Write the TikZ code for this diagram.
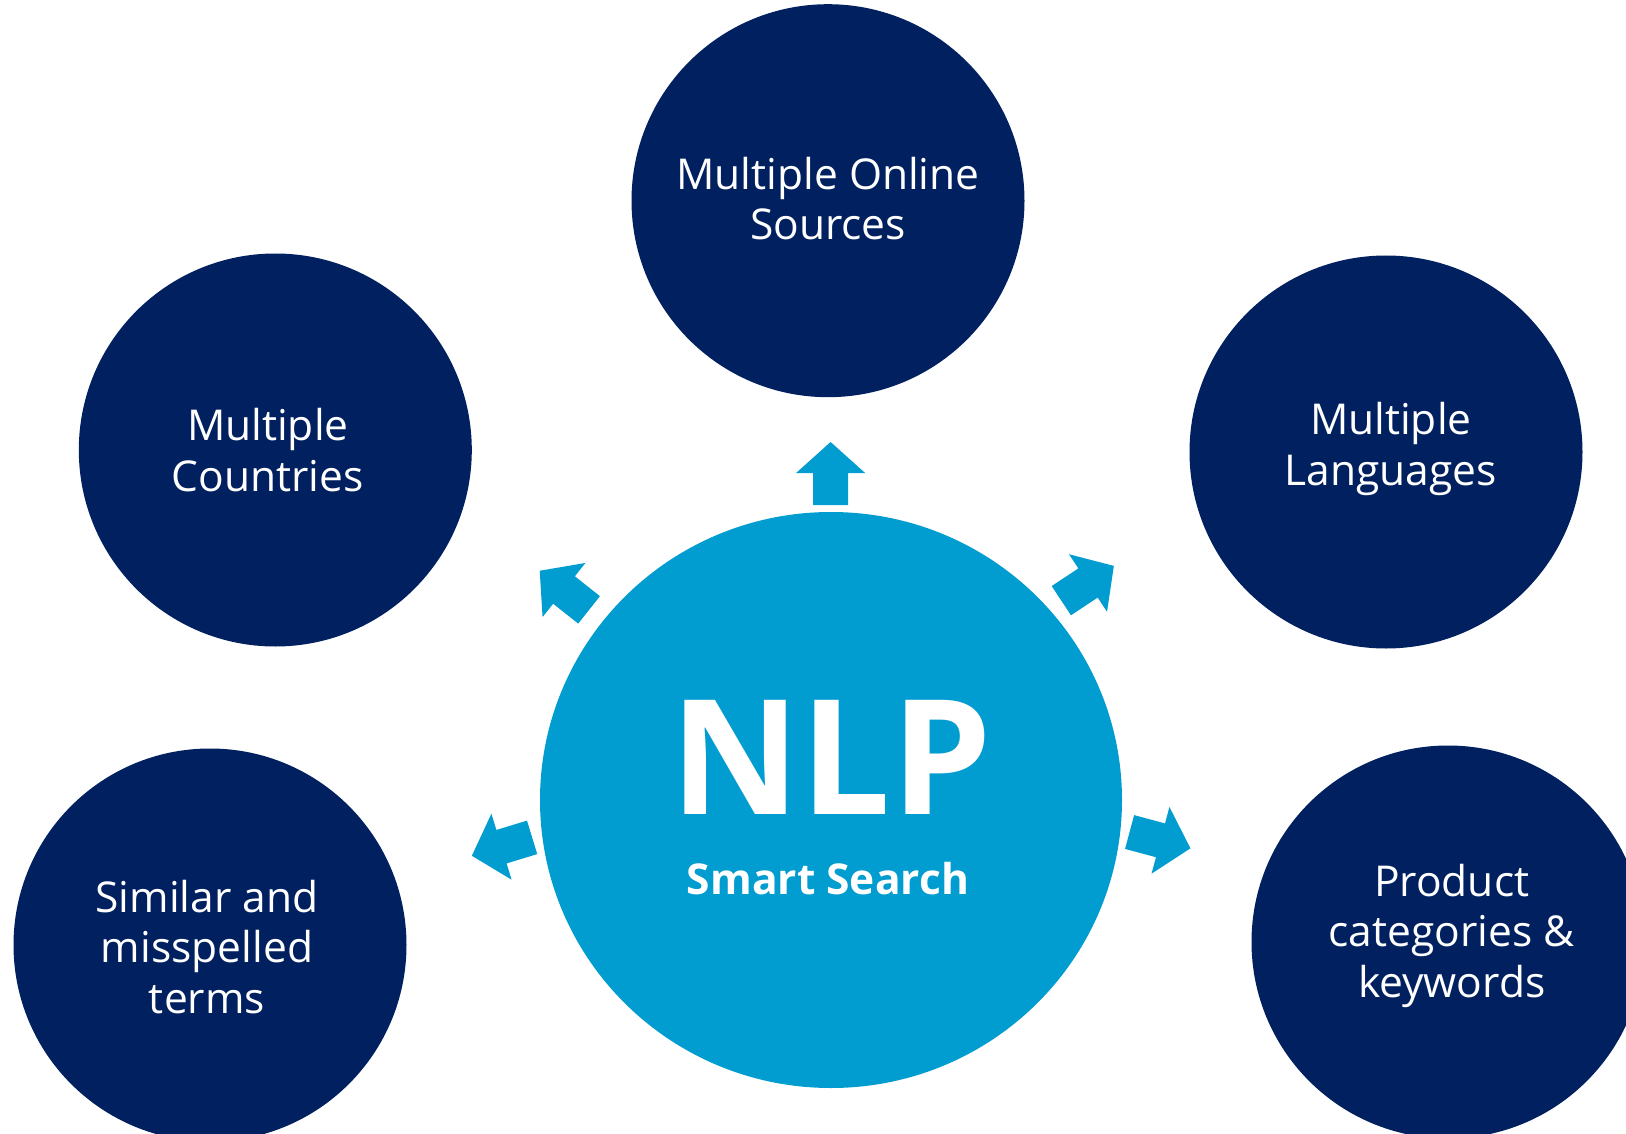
\documentclass[tikz,border=0pt]{standalone}
\usepackage{fontspec}
\setmainfont{Open Sans}
\definecolor{navy}{HTML}{012060}
\definecolor{sky}{HTML}{019CD0}
\usetikzlibrary{shapes.geometric}
\tikzset{
  bubble/.style={circle, fill=navy, minimum size=393pt, inner sep=0pt},
  hubstyle/.style={ellipse, fill=sky, minimum width=582pt, minimum height=576pt, inner sep=0pt},
  btext/.style={text=white, align=center, inner sep=0pt, font=\fontsize{42.5pt}{50.5pt}\selectfont},
  bigtext/.style={text=white, inner sep=0pt, anchor=base, font=\fontsize{160pt}{190pt}\selectfont\bfseries},
  subtext/.style={text=white, inner sep=0pt, anchor=base, font=\fontsize{42.5pt}{50pt}\selectfont\bfseries},
  blockarrow/.style={fill=sky},
}
% #1,#2: middle of the arrow head's base; #3: direction
\newcommand\hubarrow[3]{%
  \fill[blockarrow, shift={(#1,#2)}, rotate=#3]
    (-32pt,-17.5pt) -- (0pt,-17.5pt) -- (0pt,-34.5pt) -- (31pt,0pt)
    -- (0pt,34.5pt) -- (0pt,17.5pt) -- (-32pt,17.5pt) -- cycle;}
\begin{document}
\begin{tikzpicture}[x=1pt,y=-1pt]
\useasboundingbox (0,0) rectangle (1626,1134);
\clip (0,0) rectangle (1626,1134);
% hub
\node[hubstyle] (hub) at (831,800) {};
\node[bigtext] (nlp) at (831,814) {NLP};
\node[subtext] (smart) at (828,894) {Smart Search};
% bubbles
\node[bubble] (top) at (828,200.7) {};
\node[bubble] (lt) at (275.3,450) {};
\node[bubble] (rt) at (1386,452) {};
\node[bubble] (lb) at (210,945) {};
\node[bubble] (rb) at (1448,942) {};
\node[btext] (toptxt) at (828,204.4) {\strut Multiple Online\\\strut Sources};
\node[btext] (lttxt) at (267.8,455.7) {\strut Multiple\\\strut Countries};
\node[btext] (rttxt) at (1390.8,449.8) {\strut Multiple\\\strut Languages};
\node[btext] (lbtxt) at (207,952.8) {\strut Similar and\\\strut misspelled\\\strut terms};
\node[btext] (rbtxt) at (1451.7,936.5) {\strut Product\\\strut categories \&\\\strut keywords};
% arrows
\hubarrow{830.6}{473}{90}
\hubarrow{564}{590}{141.6}
\hubarrow{1088}{583}{33.5}
\hubarrow{501.5}{846.7}{197}
\hubarrow{1160.5}{840.3}{-15}
\end{tikzpicture}
\end{document}
